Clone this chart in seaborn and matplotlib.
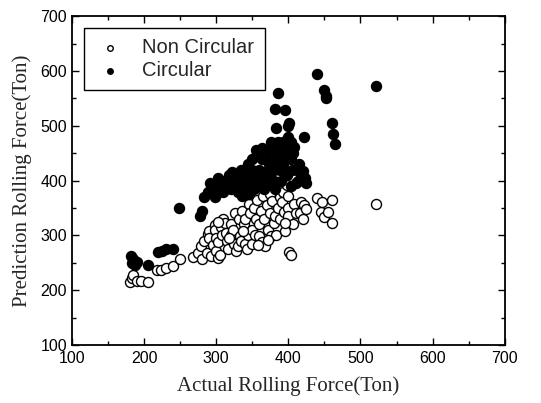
import matplotlib
matplotlib.use("Agg")
import matplotlib.pyplot as plt
from matplotlib.ticker import MultipleLocator
import seaborn as sns
import pandas as pd

# Non circular samples: actual vs predicted rolling force (ton)
noncirc_actual = [181, 183, 185, 190, 196, 205, 218, 224, 230, 240, 250, 268, 275, 279, 280,
                  283, 287, 288, 290, 290, 293, 296, 298, 298, 300, 300, 303, 303, 305, 306,
                  308, 310, 312, 313, 315, 317, 320, 321, 323, 325, 326, 327, 330, 331, 333,
                  335, 336, 338, 340, 340, 342, 344, 345, 347, 349, 350, 352, 354, 355, 357,
                  359, 360, 362, 364, 365, 366, 368, 370, 372, 374, 375, 376, 378, 380, 381,
                  383, 384, 386, 388, 389, 391, 393, 394, 396, 398, 400, 400, 400, 401, 404,
                  406, 408, 410, 414, 416, 418, 420, 422, 424, 440, 445, 447, 450, 455, 460,
                  461, 522, 302, 318, 337, 358, 372, 395]
noncirc_pred = [214, 222, 227, 217, 216, 215, 237, 236, 240, 244, 256, 260, 267, 280, 257,
                290, 268, 303, 308, 296, 262, 282, 318, 310, 296, 272, 288, 258, 265, 315,
                300, 330, 322, 305, 290, 275, 300, 320, 310, 285, 340, 272, 280, 330, 298,
                290, 345, 320, 330, 285, 276, 300, 358, 340, 310, 285, 350, 300, 330, 365,
                320, 298, 345, 288, 372, 330, 280, 356, 310, 376, 340, 298, 362, 322, 336,
                300, 386, 350, 370, 330, 360, 380, 342, 308, 392, 372, 350, 335, 270, 264,
                320, 358, 340, 400, 340, 360, 330, 355, 348, 368, 342, 360, 333, 342, 365,
                322, 358, 325, 295, 308, 282, 292, 322]

# Circular samples
circ_actual = [182, 185, 183, 187, 190, 205, 219, 225, 231, 240, 249, 278, 280, 283, 288,
               290, 292, 295, 298, 300, 302, 305, 308, 310, 312, 315, 318, 320, 320, 322,
               325, 328, 330, 332, 334, 335, 338, 340, 340, 342, 345, 345, 348, 350, 350,
               352, 355, 355, 357, 360, 360, 362, 363, 365, 366, 368, 370, 372, 373, 375,
               376, 378, 380, 380, 381, 382, 383, 385, 385, 386, 388, 389, 390, 390, 392,
               393, 395, 396, 398, 399, 400, 400, 401, 402, 403, 403, 405, 406, 410, 412,
               418, 422, 423, 440, 450, 452, 452, 460, 462, 464, 522,
               330, 336, 344, 350, 358, 364, 370, 377, 384, 391, 395, 397, 404, 408, 415,
               425, 420]
circ_pred = [263, 256, 249, 245, 251, 246, 270, 272, 276, 276, 350, 335, 345, 370, 380,
             378, 395, 380, 370, 390, 405, 385, 395, 380, 400, 392, 410, 395, 385, 415,
             400, 390, 410, 385, 420, 400, 395, 405, 385, 415, 395, 375, 410, 400, 420,
             385, 455, 395, 405, 420, 390, 410, 440, 400, 385, 415, 395, 455, 430, 405,
             470, 445, 420, 400, 530, 385, 495, 560, 445, 470, 455, 420, 400, 440, 470,
             430, 528, 450, 410, 480, 445, 500, 505, 460, 470, 390, 420, 450, 395, 420,
             410, 480, 405, 594, 565, 555, 550, 505, 485, 466, 573,
             380, 372, 430, 440, 445, 460, 440, 455, 432, 462, 415, 470, 440, 462, 430,
             395, 418]

nc = pd.DataFrame({"actual": noncirc_actual, "pred": noncirc_pred})
ci = pd.DataFrame({"actual": circ_actual, "pred": circ_pred})

sns.set_style("white")
plt.rcParams["font.family"] = ["Liberation Sans", "DejaVu Sans"]

fig = plt.figure(figsize=(5.41, 4.03), dpi=100)
ax = fig.add_axes([0.133, 0.144, 0.8, 0.816])

sns.scatterplot(data=nc, x="actual", y="pred", ax=ax, s=52, marker="o",
                facecolor="white", edgecolor="black", linewidth=1.0,
                label="Non Circular", zorder=2)
sns.scatterplot(data=ci, x="actual", y="pred", ax=ax, s=52, marker="o",
                color="black", edgecolor="black", linewidth=1.0,
                label="Circular", zorder=3)

ax.set_xlim(100, 700)
ax.set_ylim(100, 700)
ax.xaxis.set_major_locator(MultipleLocator(100))
ax.xaxis.set_minor_locator(MultipleLocator(50))
ax.yaxis.set_major_locator(MultipleLocator(100))
ax.yaxis.set_minor_locator(MultipleLocator(50))
ax.tick_params(which="both", direction="in", top=True, right=True,
               bottom=True, left=True, colors="black", labelsize=11.5, width=1.0)
ax.tick_params(which="major", length=5)
ax.tick_params(which="minor", length=3)
ax.tick_params(axis="x", pad=4)
for sp in ax.spines.values():
    sp.set_visible(True)
    sp.set_color("black")
    sp.set_linewidth(1.3)

ax.set_xlabel("Actual Rolling Force(Ton)", family=["Liberation Serif", "DejaVu Serif"],
              fontsize=15, labelpad=8)
ax.set_ylabel("Prediction Rolling Force(Ton)", family=["Liberation Serif", "DejaVu Serif"],
              fontsize=15, labelpad=6)

leg = ax.legend(loc="upper left", fontsize=14.5, frameon=True, fancybox=False,
                edgecolor="black", framealpha=1, markerscale=0.55,
                borderaxespad=0.6, handletextpad=0.8, borderpad=0.5,
                labelspacing=0.2, handlelength=1.6)
leg.get_frame().set_linewidth(1.0)

fig.savefig("out.png", dpi=100, facecolor="white")
